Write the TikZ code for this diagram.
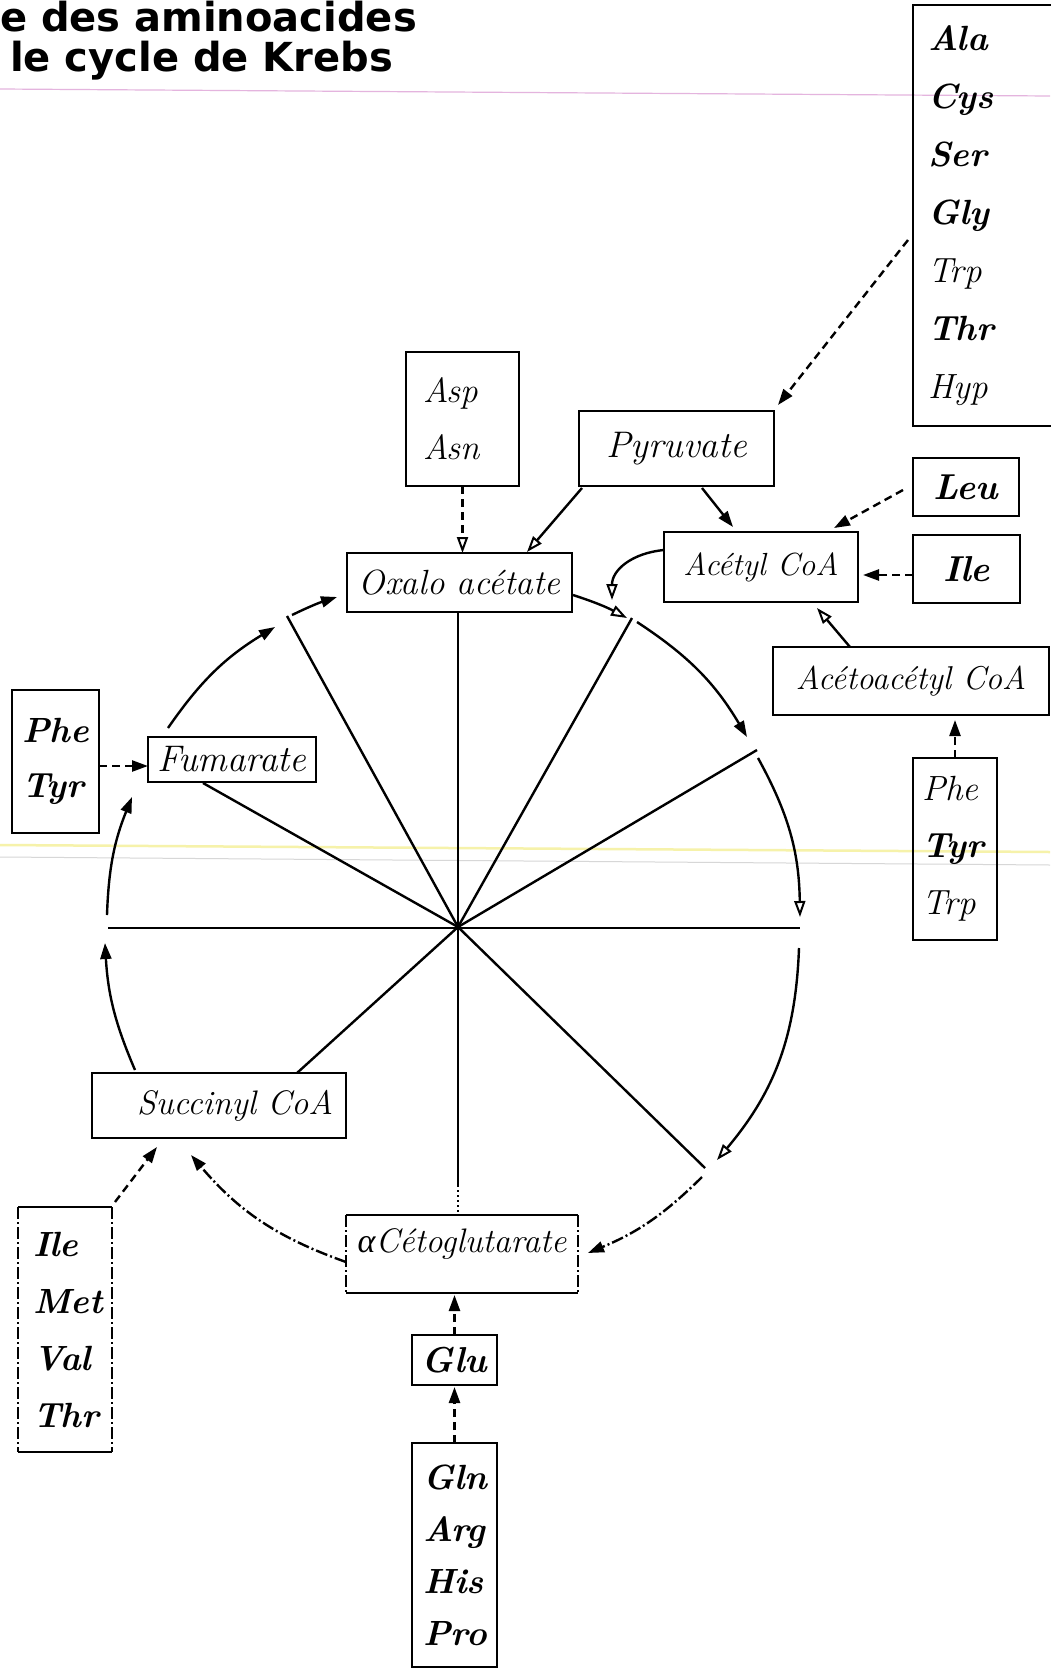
\documentclass[tikz,border=0pt]{standalone}
\usepackage{fontspec}
\newfontfamily\titlefont{DejaVu Sans}
\newfontfamily\greekfont{Liberation Serif}
\usetikzlibrary{arrows.meta}
\definecolor{scanpink}{RGB}{228,180,222}
\definecolor{scanyellow}{RGB}{246,242,170}
\definecolor{scangray}{RGB}{215,215,215}
\begin{document}
\begin{tikzpicture}[x=1pt,y=-1pt,
  every node/.style={inner sep=0pt, outer sep=0pt},
  boxed/.style={draw, line width=2.6pt},
  lbl/.style={font=\fontsize{#1}{#1}\selectfont\itshape},
  lst/.style={font=\fontsize{35}{#1}\selectfont\itshape, align=left},
  ln/.style={line width=2.4pt},
  fa/.style={-{Triangle[length=16pt,width=11pt]}},
  oa/.style={-{Triangle[open,length=16pt,width=11pt,line width=2pt]}},
  dsh/.style={dash pattern=on 8pt off 5pt},
  dd/.style={dash pattern=on 12pt off 3pt on 2pt off 3pt},
  ttl/.style={anchor=base west, font=\titlefont\bfseries\fontsize{40}{40}\selectfont}
]
\useasboundingbox (0,0) rectangle (1050,1670);
\fill[white] (0,0) rectangle (1050,1670);

% scan marks
\draw[line width=1.2pt, scanpink] (0,89) -- (1050,96);
\draw[line width=2.5pt, scanyellow] (0,845) -- (1050,852);
\draw[line width=1pt, scangray] (0,857) -- (1050,865);

% title
\node[ttl] (t1) at (0,32) {e des aminoacides};
\node[ttl] (t2) at (10,71) {le cycle de Krebs};

% boxes
\node[boxed, lst=58, anchor=north west, minimum height=421pt, text width=113pt, inner xsep=15pt] (ala) at (913,5)
  {\textbf{Ala}\\\textbf{Cys}\\\textbf{Ser}\\\textbf{Gly}\\Trp\\\textbf{Thr}\\Hyp};
\node[boxed, lst=57, anchor=north west, minimum height=134pt, text width=79pt, inner xsep=17pt] (asp) at (406,352)
  {Asp\\Asn};
\node[boxed, lbl=37, minimum width=195pt, minimum height=75pt] (pyr) at (676.5,448.5) {Pyruvate};
\node[boxed, lbl=35, minimum width=225pt, minimum height=59pt] (oxalo) at (459.5,582.5) {Oxalo acétate};
\node[boxed, lbl=32, minimum width=194pt, minimum height=70pt] (acetyl) at (761,567) {Acétyl CoA};
\node[boxed, lbl=36, minimum width=106pt, minimum height=58pt] (leu) at (966,487) {\textbf{Leu}};
\node[boxed, lbl=36, minimum width=107pt, minimum height=68pt] (iler) at (966.5,569) {\textbf{Ile}};
\node[boxed, lbl=33, minimum width=276pt, minimum height=68pt] (acac) at (911,681) {Acétoacétyl CoA};
\node[boxed, lst=57, anchor=north west, minimum height=182pt, text width=66pt, inner xsep=9pt] (phe3) at (913,758)
  {Phe\\\textbf{Tyr}\\Trp};
\node[boxed, lst=55, anchor=north west, minimum height=143pt, text width=67pt, inner xsep=10pt] (phe2) at (12,690)
  {\textbf{Phe}\\\textbf{Tyr}};
\node[boxed, lbl=37, minimum width=168pt, minimum height=45pt] (fum) at (232,759.5) {Fumarate};
\node[boxed, lbl=34, align=right, anchor=north west, minimum height=65pt, text width=228pt, inner xsep=13pt] (succ) at (92,1073)
  {Succinyl CoA};
\node[lbl=34, minimum width=232pt, minimum height=78pt, text height=23pt, text depth=27pt] (aceto) at (462,1254)
  {{\greekfont\itshape α}Cétoglutarate};
\node[boxed, lbl=36, minimum width=85pt, minimum height=50pt] (glu) at (454.5,1360) {\textbf{Glu}};
\node[boxed, lst=52, anchor=north west, minimum height=224pt, text width=63pt, inner xsep=11pt] (gln) at (412,1443)
  {\textbf{Gln}\\\textbf{Arg}\\\textbf{His}\\\textbf{Pro}};
\node[lst=57, anchor=north west, minimum height=245pt, text width=64pt, inner xsep=15pt] (ilel) at (18,1207)
  {\textbf{Ile}\\\textbf{Met}\\\textbf{Val}\\\textbf{Thr}};

% boxes with dash-dot sides
\draw[line width=2.6pt] (aceto.north west) -- (aceto.north east);
\draw[line width=2.6pt] (aceto.south west) -- (aceto.south east);
\draw[line width=1.8pt, dd] (aceto.north west) -- (aceto.south west);
\draw[line width=1.8pt, dd] (aceto.north east) -- (aceto.south east);
\draw[line width=2.6pt] (ilel.north west) -- (ilel.north east);
\draw[line width=2.6pt] (ilel.south west) -- (ilel.south east);
\draw[line width=1.8pt, dd] (ilel.north west) -- (ilel.south west);
\draw[line width=1.8pt, dd] (ilel.north east) -- (ilel.south east);

% circle spokes
\coordinate (C) at (458,927);
\coordinate (s0) at (800,928);
\coordinate (s30) at (757,750);
\coordinate (s60) at (632,618);
\coordinate (s120) at (287,616);
\coordinate (s150) at (203,783);
\coordinate (s180) at (108,928);
\coordinate (s225) at (297,1073);
\coordinate (s270) at (458,1185);
\coordinate (s315) at (705,1168);
\draw[ln] (s180) -- (s0);
\draw[ln] (C) -- (s30);
\draw[ln] (C) -- (s60);
\draw[ln] (C) -- (C |- oxalo.south);
\draw[ln] (C) -- (s120);
\draw[ln] (C) -- (s150);
\draw[ln] (C) -- (s225);
\draw[ln] (C) -- (s270);
\draw[line width=1.6pt, dash pattern=on 2pt off 3pt] (s270) -- (C |- aceto.north);
\draw[ln] (C) -- (s315);

% cycle arcs
\coordinate (a1s) at (168,728);
\coordinate (a1e) at (275,627);
\coordinate (a2s) at (292,615);
\coordinate (a2e) at (337,597);
\coordinate (a3s) at (573,595);
\coordinate (a3e) at (627,618);
\coordinate (a4s) at (637,622);
\coordinate (a4e) at (747,737);
\coordinate (a5s) at (758,758);
\coordinate (a5e) at (800,917);
\coordinate (a6s) at (799,948);
\coordinate (a6e) at (717,1160);
\coordinate (a7s) at (702,1177);
\coordinate (a7e) at (588,1253);
\coordinate (a8s) at (346,1262);
\coordinate (a8e) at (191,1155);
\coordinate (a9s) at (135,1070);
\coordinate (a9e) at (105,943);
\coordinate (a10s) at (107,915);
\coordinate (a10e) at (132,797);
\draw[ln,fa] (a1s) to[bend left=12] (a1e);
\draw[ln,fa] (a2s) to[bend left=4] (a2e);
\draw[ln,oa] (a3s) to[bend left=5] (a3e);
\draw[ln,fa] (a4s) to[bend left=13] (a4e);
\draw[ln,oa] (a5s) to[bend left=14] (a5e);
\draw[ln,oa] (a6s) to[bend left=19] (a6e);
\draw[ln,fa,dd] (a7s) to[bend left=11] (a7e);
\draw[ln,fa,dd] (a8s) to[bend left=15] (a8e);
\draw[ln,fa] (a9s) to[bend left=10] (a9e);
\draw[ln,fa] (a10s) to[bend left=10] (a10e);

% other connectors
\coordinate (alaout) at (908,240);
\coordinate (pyrin) at (778,405);
\draw[ln,dsh,fa] (alaout) -- (pyrin);
\draw[ln,dsh,oa] (asp.south) -- (asp.south |- oxalo.north);
\coordinate (pyrl) at (582,488);
\coordinate (oxin) at (527,552);
\draw[ln,oa] (pyrl) -- (oxin);
\coordinate (pyrr) at (702,488);
\coordinate (acin) at (733,527);
\draw[ln,fa] (pyrr) -- (acin);
\coordinate (acw) at (664,550);
\coordinate (acx) at (612,600);
\draw[ln,oa] (acw) .. controls (632,553) and (612,570) .. (acx);
\coordinate (leuout) at (903,490);
\coordinate (leuin) at (834,528);
\draw[ln,dsh,fa] (leuout) -- (leuin);
\coordinate (ileout) at (913,575);
\coordinate (ilein) at (863,575);
\draw[ln,dsh,fa] (ileout) -- (ilein);
\coordinate (acacout) at (850,647);
\coordinate (acacin) at (817,608);
\draw[ln,oa] (acacout) -- (acacin);
\draw[ln,dsh,fa] (phe3.north) -- ([yshift=-5pt]phe3.north |- acac.south);
\draw[ln,dsh,fa] (phe2.east |- 0,766) -- (fum.west |- 0,766);
\coordinate (ilelout) at (115,1202);
\coordinate (succin) at (157,1147);
\draw[ln,dsh,fa] (ilelout) -- (succin);
\draw[ln,dsh,fa] (glu.north) -- ([yshift=-2pt]glu.north |- aceto.south);
\draw[ln,dsh,fa] (gln.north) -- ([yshift=-2pt]gln.north |- glu.south);
\end{tikzpicture}
\end{document}
